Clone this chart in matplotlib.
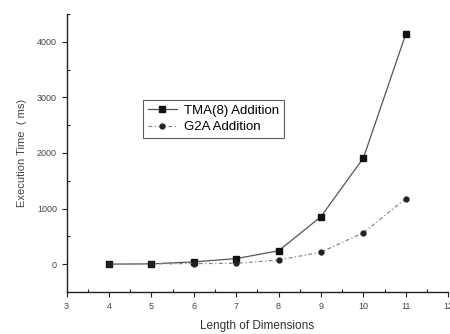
import matplotlib.pyplot as plt
from matplotlib.ticker import MultipleLocator

plt.rcParams['font.family'] = ['Liberation Sans', 'DejaVu Sans']

# Execution time (ms) against the length of dimensions
dimensions = [4, 5, 6, 7, 8, 9, 10, 11]
tma_times = [0, 5, 40, 100, 240, 855, 1910, 4140]
g2a_times = [0, 5, 10, 15, 75, 215, 565, 1180]

fig = plt.figure(figsize=(4.5, 3.34), dpi=100)
ax = fig.add_axes([0.148, 0.126, 0.848, 0.832])

ax.plot(dimensions, tma_times, color='#555555', linewidth=0.9,
        marker='s', markersize=4, markerfacecolor='#111111',
        markeredgecolor='#111111', label='TMA(8) Addition')
ax.plot(dimensions, g2a_times, color='#888888', linewidth=0.9,
        linestyle=(0, (3, 2, 1, 2)), marker='o', markersize=3.5,
        markerfacecolor='#222222', markeredgecolor='#222222',
        label='G2A Addition')

ax.set_xlim(3, 12)
ax.set_ylim(-500, 4500)
ax.xaxis.set_major_locator(MultipleLocator(1))
ax.xaxis.set_minor_locator(MultipleLocator(0.5))
ax.yaxis.set_major_locator(MultipleLocator(1000))
ax.yaxis.set_minor_locator(MultipleLocator(500))
ax.set_yticks([0, 1000, 2000, 3000, 4000])

for side in ('top', 'right'):
    ax.spines[side].set_visible(False)
for side in ('left', 'bottom'):
    ax.spines[side].set_linewidth(1.0)
    ax.spines[side].set_color('#222222')

ax.tick_params(which='major', direction='out', length=3.5, width=0.8,
               labelsize=6.5, colors='#222222', labelcolor='#444444')
ax.tick_params(which='minor', direction='in', length=2, width=0.8,
               colors='#222222')

ax.set_xlabel('Length of Dimensions', fontsize=8.5, color='#333333', labelpad=7)
ax.set_ylabel('Execution Time  ( ms)', fontsize=8, color='#444444', labelpad=7)

leg = ax.legend(loc='upper left', bbox_to_anchor=(0.2, 0.69),
                borderaxespad=0, fontsize=9.5, frameon=True, fancybox=False,
                handlelength=2.2, borderpad=0.35, labelspacing=0.3,
                handletextpad=0.6)
leg.get_frame().set_edgecolor('#333333')
leg.get_frame().set_linewidth(0.8)

fig.savefig('out.png', dpi=100)
